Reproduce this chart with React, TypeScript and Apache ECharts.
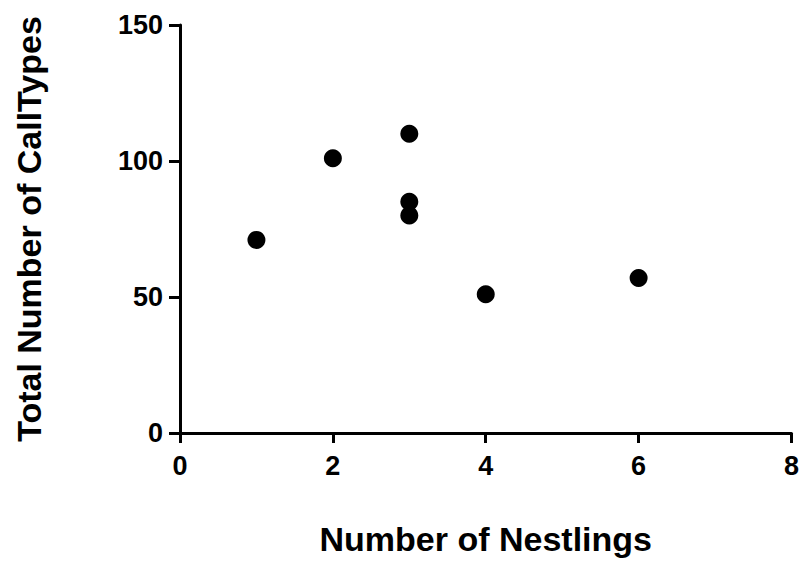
import React, { useEffect, useRef } from "react";
import * as echarts from "echarts";

const nestlings = [1, 2, 3, 3, 3, 4, 6];
const callTypes = [71, 101, 110, 85, 80, 51, 57];
const xTitle = "Number of Nestlings";
const yTitle = "Total Number of CallTypes";

export default function App() {
  const ref = useRef<HTMLDivElement>(null);
  useEffect(() => {
    document.body.style.margin = "0";
    const chart = echarts.init(ref.current!, null, { renderer: "svg" });
    const font = "'Liberation Sans', Arial, sans-serif";
    const axisLine = { show: true, lineStyle: { color: "#000", width: 3 } };
    chart.setOption({
      animation: false,
      backgroundColor: "#fff",
      grid: { left: 180, right: 7, top: 25, bottom: 136 },
      xAxis: {
        type: "value",
        min: 0,
        max: 8,
        interval: 2,
        axisLine: { ...axisLine, onZero: false },
        axisTick: { show: true, length: 10, lineStyle: { color: "#000", width: 3 } },
        axisLabel: { color: "#000", fontSize: 27, fontWeight: "bold", fontFamily: font, margin: 19 },
        splitLine: { show: false },
        name: xTitle,
        nameLocation: "middle",
        nameGap: 89,
        nameTextStyle: { color: "#000", fontSize: 34, fontWeight: "bold", fontFamily: font },
      },
      yAxis: {
        type: "value",
        min: 0,
        max: 150,
        interval: 50,
        axisLine: { ...axisLine, onZero: false },
        axisTick: { show: true, length: 11, lineStyle: { color: "#000", width: 3 } },
        axisLabel: { color: "#000", fontSize: 27, fontWeight: "bold", fontFamily: font, margin: 17 },
        splitLine: { show: false },
        name: yTitle,
        nameLocation: "middle",
        nameGap: 134,
        nameTextStyle: { color: "#000", fontSize: 34, fontWeight: "bold", fontFamily: font },
      },
      series: [
        {
          type: "scatter",
          data: nestlings.map((x, i) => [x, callTypes[i]]),
          symbol: "circle",
          symbolSize: 18,
          itemStyle: { color: "#000", opacity: 1 },
        },
      ],
    });
    return () => chart.dispose();
  }, []);
  return <div ref={ref} style={{ width: 802, height: 569 }} />;
}
